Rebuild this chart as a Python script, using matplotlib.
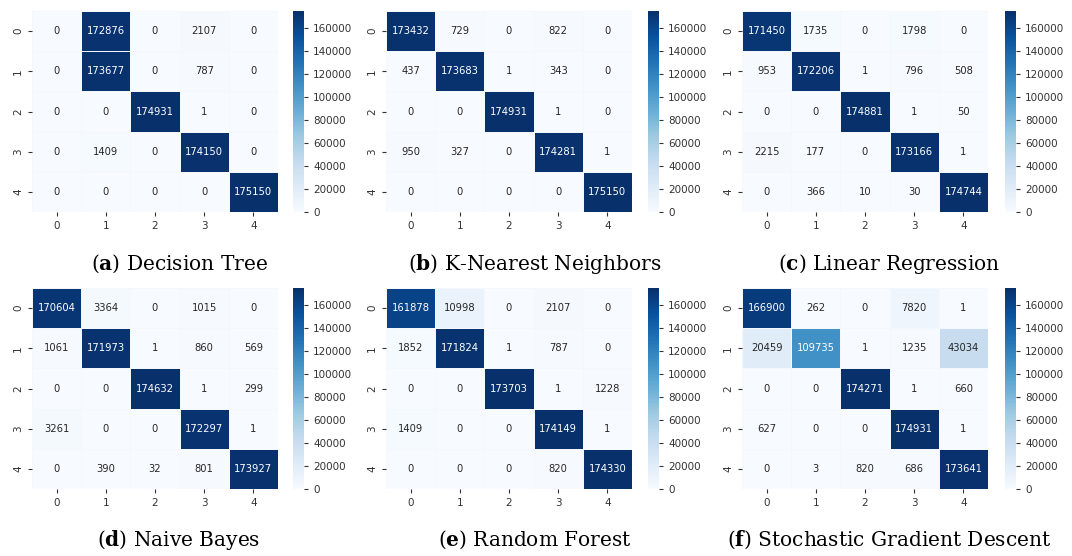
import numpy as np
import matplotlib
matplotlib.use("Agg")
import matplotlib.pyplot as plt
import seaborn as sns

plt.rcParams['font.family'] = ['DejaVu Sans']
plt.rcParams['mathtext.fontset'] = 'custom'
plt.rcParams['mathtext.rm'] = 'DejaVu Serif'
plt.rcParams['mathtext.bf'] = 'DejaVu Serif:bold'

labels = [0, 1, 2, 3, 4]

decision_tree = [[0, 172876, 0, 2107, 0],
                 [0, 173677, 0, 787, 0],
                 [0, 0, 174931, 1, 0],
                 [0, 1409, 0, 174150, 0],
                 [0, 0, 0, 0, 175150]]

knn = [[173432, 729, 0, 822, 0],
       [437, 173683, 1, 343, 0],
       [0, 0, 174931, 1, 0],
       [950, 327, 0, 174281, 1],
       [0, 0, 0, 0, 175150]]

linear_reg = [[171450, 1735, 0, 1798, 0],
              [953, 172206, 1, 796, 508],
              [0, 0, 174881, 1, 50],
              [2215, 177, 0, 173166, 1],
              [0, 366, 10, 30, 174744]]

naive_bayes = [[170604, 3364, 0, 1015, 0],
               [1061, 171973, 1, 860, 569],
               [0, 0, 174632, 1, 299],
               [3261, 0, 0, 172297, 1],
               [0, 390, 32, 801, 173927]]

random_forest = [[161878, 10998, 0, 2107, 0],
                 [1852, 171824, 1, 787, 0],
                 [0, 0, 173703, 1, 1228],
                 [1409, 0, 0, 174149, 1],
                 [0, 0, 0, 820, 174330]]

sgd = [[166900, 262, 0, 7820, 1],
       [20459, 109735, 1, 1235, 43034],
       [0, 0, 174271, 1, 660],
       [627, 0, 0, 174931, 1],
       [0, 3, 820, 686, 173641]]

matrices = [decision_tree, knn, linear_reg, naive_bayes, random_forest, sgd]
letters = ['a', 'b', 'c', 'd', 'e', 'f']
names = ['Decision Tree', 'K-Nearest Neighbors', 'Linear Regression',
         'Naive Bayes', 'Random Forest', 'Stochastic Gradient Descent']

W, H = 1072, 556
fig = plt.figure(figsize=(W / 100, H / 100), dpi=100)

# pixel layout of each panel: heatmap left, colorbar left, caption centre
col_left = [32, 386, 742]
col_cbar = [293, 648, 1005]
col_caption = [179, 535, 889]
row_top = [11, 288]
row_caption = [264, 540]
hm_w, hm_h, cb_w = 246, 201, 11


def frac(x, y, w, h):
    return [x / W, 1 - (y + h) / H, w / W, h / H]


for i, cm in enumerate(matrices):
    r, c = divmod(i, 3)
    ax = fig.add_axes(frac(col_left[c], row_top[r], hm_w, hm_h))
    cax = fig.add_axes(frac(col_cbar[c], row_top[r], cb_w, hm_h))
    sns.heatmap(np.array(cm), annot=True, fmt='d', cmap='Blues',
                linewidths=0.5, linecolor='#f4f8fd',
                annot_kws={'fontsize': 7.2},
                xticklabels=labels, yticklabels=labels,
                ax=ax, cbar_ax=cax)
    ax.tick_params(labelsize=7.5, colors='#333333', length=3)
    ax.tick_params(axis='y', labelrotation=90)
    cax.tick_params(labelsize=7.5, colors='#333333', length=3)
    cax.set_yticks(range(0, 160001, 20000))
    fig.text(col_caption[c] / W, 1 - row_caption[r] / H,
             r'($\mathbf{%s}$) %s' % (letters[i], names[i]),
             ha='center', va='center', fontsize=14.5,
             family='DejaVu Serif')

fig.savefig('out.png', dpi=100)
